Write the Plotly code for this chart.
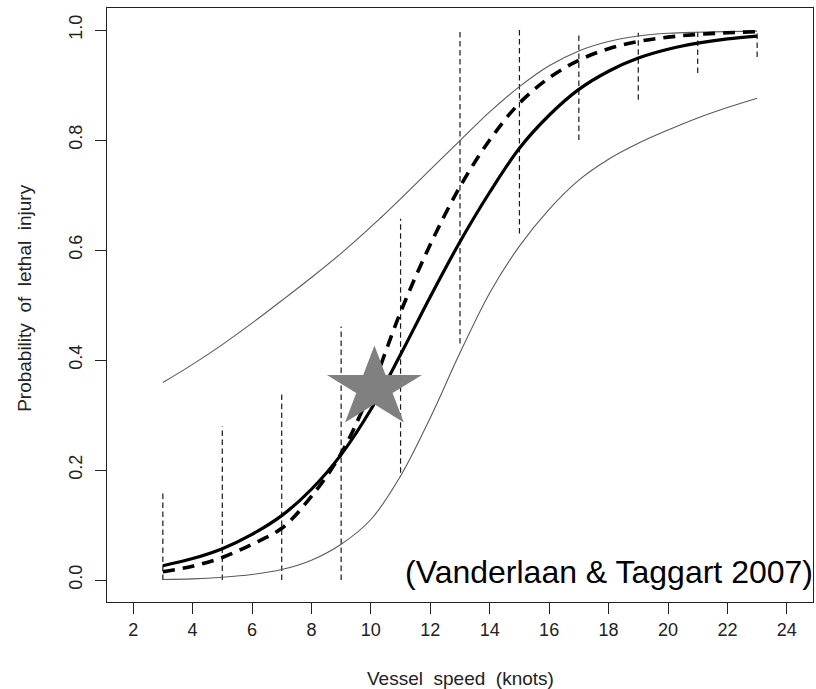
import numpy as np
import plotly.graph_objects as go

# Vessel speed (knots) at which the curves are evaluated
speed = list(range(3, 24))

# Fitted probability of lethal injury (solid) and alternative fit (dashed)
p_fit = [0.026, 0.039, 0.057, 0.083, 0.117, 0.165, 0.228, 0.310, 0.410, 0.515,
         0.615, 0.705, 0.785, 0.845, 0.892, 0.925, 0.949, 0.965, 0.976, 0.984, 0.989]
p_alt = [0.015, 0.025, 0.041, 0.065, 0.094, 0.152, 0.230, 0.345, 0.487, 0.610,
         0.715, 0.800, 0.867, 0.913, 0.945, 0.966, 0.979, 0.987, 0.992, 0.995, 0.997]

# Confidence band around the fitted curve
p_upper = [0.359, 0.392, 0.428, 0.467, 0.508, 0.550, 0.594, 0.642, 0.693, 0.746,
           0.799, 0.851, 0.897, 0.935, 0.962, 0.979, 0.989, 0.994, 0.996, 0.997, 0.998]
p_lower = [0.001, 0.002, 0.005, 0.010, 0.019, 0.036, 0.065, 0.110, 0.189, 0.295,
           0.413, 0.522, 0.607, 0.674, 0.727, 0.765, 0.794, 0.818, 0.840, 0.859, 0.876]

# Intervals of the observed proportions by speed class
bin_speed = [3, 5, 7, 9, 11, 13, 15, 17, 19, 21, 23]
bin_low = [0.0, 0.0, 0.0, 0.0, 0.195, 0.43, 0.63, 0.80, 0.873, 0.922, 0.951]
bin_high = [0.158, 0.279, 0.343, 0.461, 0.657, 1.0, 1.0, 0.995, 0.995, 0.997, 0.998]

# Highlighted speed / probability
star_speed = [10.12]
star_prob = [0.349]

x_ticks = list(range(2, 25, 2))
y_ticks = [0.0, 0.2, 0.4, 0.6, 0.8, 1.0]
y_tick_text = ["0.0", "0.2", "0.4", "0.6", "0.8", "1.0"]

X_RANGE = [1.12, 24.88]
Y_RANGE = [-0.04, 1.04]
W, H = 816, 689
M = dict(l=107, r=3, t=8, b=87)

FONT = "Liberation Sans, Arial, Helvetica, sans-serif"

fig = go.Figure()

# vertical dashed intervals, one trace with gaps between segments
vx, vy = [], []
for s, lo, hi in zip(bin_speed, bin_low, bin_high):
    vx += [s, s, None]
    vy += [lo, hi, None]
fig.add_trace(go.Scatter(x=vx, y=vy, mode="lines",
                         line=dict(color="#1a1a1a", width=1.2, dash="5.5px,3.5px"),
                         hoverinfo="skip", showlegend=False))

for band in (p_upper, p_lower):
    fig.add_trace(go.Scatter(x=speed, y=band, mode="lines",
                             line=dict(color="#5a5a5a", width=1.1, shape="spline"),
                             showlegend=False))

fig.add_trace(go.Scatter(x=speed, y=p_alt, mode="lines",
                         line=dict(color="black", width=3.6, dash="12px,8px", shape="spline"),
                         showlegend=False))
fig.add_trace(go.Scatter(x=speed, y=p_fit, mode="lines",
                         line=dict(color="black", width=3.2, shape="spline"),
                         showlegend=False))

# five-pointed star around the highlighted point, sized in pixels
plot_w = W - M["l"] - M["r"]
plot_h = H - M["t"] - M["b"]
rx = 50.0 * (X_RANGE[1] - X_RANGE[0]) / plot_w
ry = 42.6 * (Y_RANGE[1] - Y_RANGE[0]) / plot_h
ang = np.deg2rad(90 + 36 * np.arange(11))
rad = np.where(np.arange(11) % 2 == 0, 1.0, 0.382)
for cx, cy in zip(star_speed, star_prob):
    fig.add_trace(go.Scatter(x=cx + rx * rad * np.cos(ang), y=cy + ry * rad * np.sin(ang),
                             mode="lines", fill="toself", fillcolor="#808080",
                             line=dict(width=0, color="#808080"),
                             hoverinfo="skip", showlegend=False))

axis_common = dict(showline=True, linecolor="#222222", linewidth=1.3, mirror=True,
                   ticks="outside", ticklen=11, tickwidth=1.2, tickcolor="#222222",
                   showgrid=False, zeroline=False,
                   tickfont=dict(family=FONT, size=18, color="#222222"))

fig.update_xaxes(range=X_RANGE, tickvals=x_ticks, ticktext=[str(v) for v in x_ticks],
                 **axis_common)
fig.update_yaxes(range=Y_RANGE, tickvals=y_ticks, ticktext=y_tick_text, tickangle=-90,
                 ticklabelstandoff=6, **axis_common)

fig.update_layout(
    width=W, height=H, margin=M,
    paper_bgcolor="white", plot_bgcolor="white",
    annotations=[
        dict(text="Vessel\u00a0 speed\u00a0 (knots)", xref="paper", yref="paper",
             x=0.5, y=0, yanchor="middle", yshift=-76, showarrow=False,
             font=dict(family=FONT, size=19, color="#222222")),
        dict(text="Probability\u00a0 of\u00a0 lethal\u00a0 injury", xref="paper", yref="paper",
             x=0, y=0.512, xanchor="center", xshift=-82, textangle=-90, showarrow=False,
             font=dict(family=FONT, size=19, color="#222222")),
        dict(text="(Vanderlaan & Taggart 2007)", xref="paper", yref="paper",
             x=1, y=0.0505, xanchor="right", yanchor="middle", xshift=2, showarrow=False,
             font=dict(family=FONT, size=32, color="black")),
    ],
)

fig.write_html("out.html")
